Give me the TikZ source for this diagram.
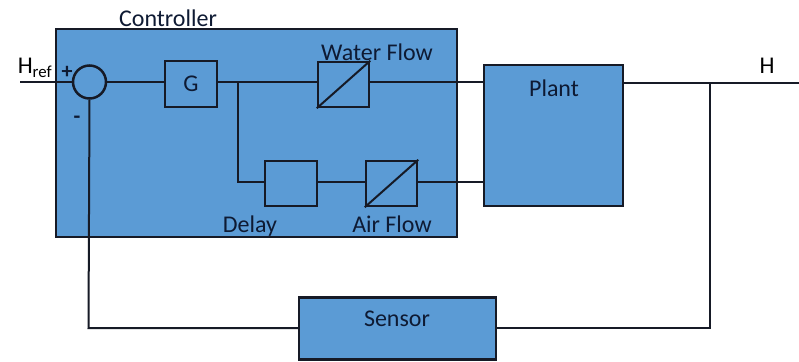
\documentclass[tikz,border=0pt]{standalone}
\usepackage{fontspec}
\setmainfont{Carlito}
\definecolor{boxblue}{HTML}{5B9BD5}
\definecolor{edge}{HTML}{161A26}
\definecolor{txt}{HTML}{0E1A33}
\begin{document}
\begin{tikzpicture}[x=1pt,y=-1pt,
  blk/.style={draw=edge, line width=2.5pt, fill=boxblue, inner sep=0pt},
  wire/.style={draw=edge, line width=2pt},
  lbl/.style={inner sep=0pt, font=\fontsize{24}{28}\selectfont, text=txt},
]
\useasboundingbox (0,0) rectangle (799,361);
\fill[white] (0,0) rectangle (799,361);
% controller
\node[blk, line width=2pt, minimum width=401pt, minimum height=208pt] (ctrl) at (256.5,133) {};
\node[lbl] (ctrlL) at (168,18) {Controller};
% blocks
\node[blk, circle, minimum size=33pt] (sum) at (89.5,82) {};
\node[blk, minimum width=52pt, minimum height=46pt] (G) at (191,84) {};
\node[lbl] (GL) at (191,84) {G};
\node[blk, minimum width=51pt, minimum height=45pt] (WF) at (343.5,84.5) {};
\node[blk, minimum width=52pt, minimum height=45pt] (D) at (291,183.5) {};
\node[blk, minimum width=51pt, minimum height=45pt] (AF) at (391.5,183.5) {};
\node[blk, minimum width=139pt, minimum height=141pt] (P) at (553.5,135.5) {};
\node[blk, minimum width=197pt, minimum height=62pt] (S) at (397.5,328.5) {};
% diagonals
\draw[wire] (WF.south west) -- (WF.north east);
\draw[wire] (AF.south west) -- (AF.north east);
% labels
\node[lbl] (WFL) at (377,52) {Water Flow};
\node[lbl] (DL) at (250,226) {Delay};
\node[lbl] (AFL) at (392,224) {Air Flow};
\node[lbl] (PL) at (554,88) {Plant};
\node[lbl] (SL) at (397,319) {Sensor};
\node[lbl, text=black] (HL) at (767,66) {H};
\node[lbl, text=black] (HrL) at (35,68) {H\textsubscript{ref}};
\node[lbl, font=\fontsize{22}{24}\selectfont\bfseries] (plus) at (67,72) {+};
\node[lbl, font=\fontsize{22}{24}\selectfont\bfseries] (minus) at (77,120) {-};
% coordinates
\coordinate (in) at (20,82);
\coordinate (j1) at (238,82);
\coordinate (j1b) at (238,182);
\coordinate (j2) at (710,83);
\coordinate (out) at (799,83);
\coordinate (j2b) at (710,328);
\coordinate (fb) at (88.5,328);
% wires
\draw[wire] (in) -- (sum.west);
\draw[wire] (sum.east) -- (sum.east -| G.west);
\draw[wire] (G.east |- j1) -- (j1) -- (j1 -| WF.west);
\draw[wire] (j1) -- (j1b) -- (j1b -| D.west);
\draw[wire] (D.east |- j1b) -- (j1b -| AF.west);
\draw[wire] (WF.east |- j1) -- (j1 -| P.west);
\draw[wire] (AF.east |- j1b) -- (j1b -| P.west);
\draw[wire] (P.east |- j2) -- (out);
\draw[wire] (j2) -- (j2b) -- (S.east |- j2b);
\draw[wire] (S.west |- fb) -- (fb) -- (sum.south);
\end{tikzpicture}
\end{document}
